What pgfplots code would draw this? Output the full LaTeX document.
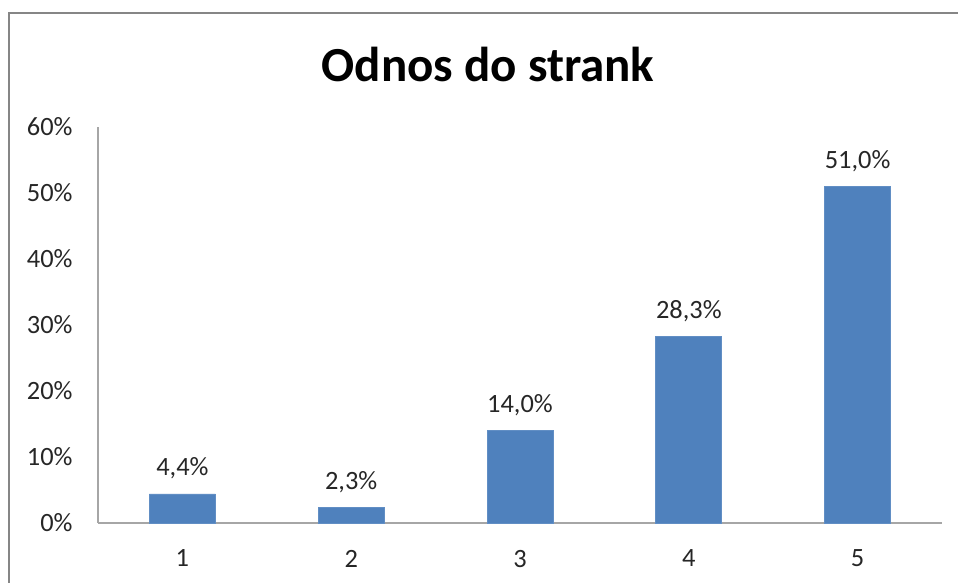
\documentclass[border=0pt]{standalone}
\usepackage{pgfplots}
\pgfplotsset{compat=1.18}
\usepackage{fontspec}
\setmainfont{Carlito}
\definecolor{barblue}{HTML}{4F81BD}
\definecolor{axgray}{HTML}{A6A6A6}
\definecolor{framegray}{HTML}{868686}
\begin{document}
\begin{tikzpicture}
\path[use as bounding box] (0,0) rectangle (479pt,291.5pt);
\draw[framegray, line width=1.2pt] (4.5pt,-2pt) -- (4.5pt,285pt) -- (482pt,285pt);
\node[anchor=base, font=\bfseries\fontsize{24.5}{28}\selectfont] at (244pt,250.5pt) {Odnos do strank};
\begin{axis}[
  at={(49pt,30pt)}, anchor=south west,
  scale only axis, width=422pt, height=198pt,
  xmin=0.5, xmax=5.5, ymin=0, ymax=60,
  axis lines*=left,
  axis line style={axgray, line width=0.8pt, -},
  tick style={draw=none},
  xtick={1,2,3,4,5}, xticklabels={1,2,3,4,5},
  ytick={0,10,20,30,40,50,60},
  yticklabels={0\%,10\%,20\%,30\%,40\%,50\%,60\%},
  ticklabel style={font=\fontsize{13.2}{15}\selectfont, text=black!85},
  yticklabel style={inner sep=0pt, xshift=-12.5pt},
  xticklabel style={inner sep=0pt, anchor=north, yshift=-9pt},
  /pgf/number format/assume math mode=true,
  ybar, bar width=33pt,
  nodes near coords={\pgfmathprintnumber[fixed,fixed zerofill,precision=1,use comma]{\pgfplotspointmeta}\%},
  nodes near coords style={font=\fontsize{13.2}{15}\selectfont, text=black!85, anchor=base, inner sep=0pt, yshift=9pt},
  clip=false,
]
\addplot[fill=barblue, draw=barblue!90!white] coordinates {(1,4.4) (2,2.3) (3,14.0) (4,28.3) (5,51.0)};
\end{axis}
\end{tikzpicture}
\end{document}
